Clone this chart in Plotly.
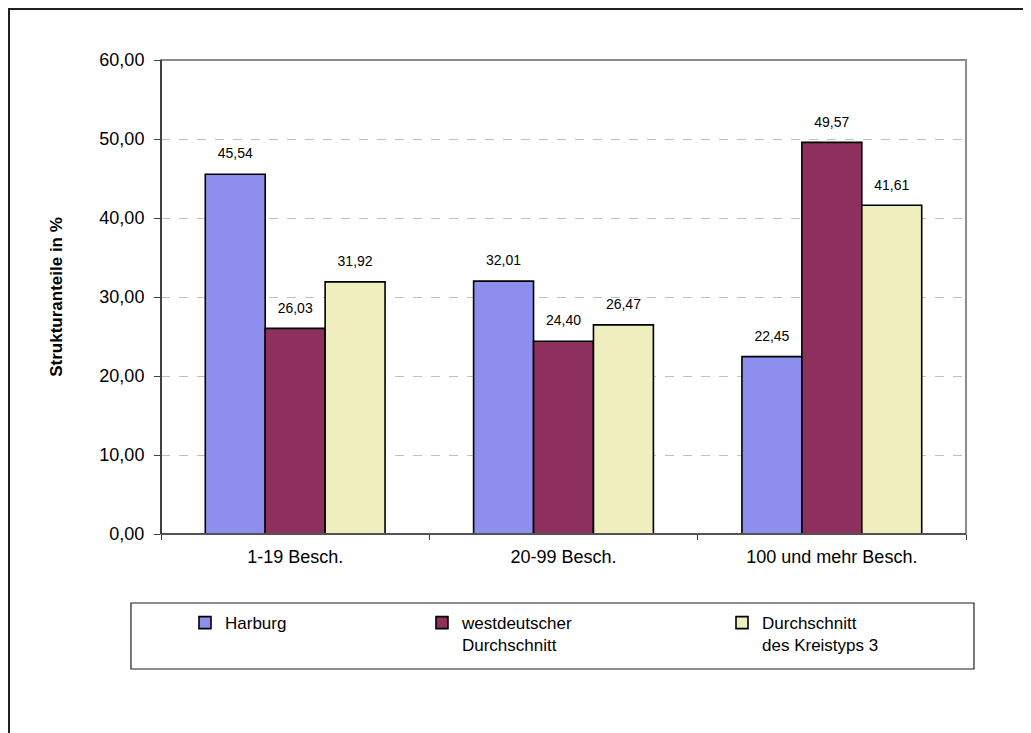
import plotly.graph_objects as go

categories = ["1-19 Besch.", "20-99 Besch.", "100 und mehr Besch."]
series_names = ["Harburg", "westdeutscher<br>Durchschnitt", "Durchschnitt<br>des Kreistyps 3"]
harburg = [45.54, 32.01, 22.45]
westdeutsch = [26.03, 24.40, 49.57]
kreistyp3 = [31.92, 26.47, 41.61]
y_ticks = [0, 10, 20, 30, 40, 50, 60]

series = [harburg, westdeutsch, kreistyp3]
colors = ["#8e8eee", "#8d305e", "#eeeebf"]
legend_ids = ["legend", "legend2", "legend3"]
legend_x = [0.0298, 0.3242, 0.6969]

FONT = "Arial, Liberation Sans, sans-serif"

fig = go.Figure()
for name, vals, col, lg in zip(series_names, series, colors, legend_ids):
    fig.add_trace(go.Bar(
        x=categories, y=vals, name=name, legend=lg,
        marker=dict(color=col, line=dict(color="#000000", width=1.6)),
    ))
for name, vals in zip(series_names, series):
    fig.add_trace(go.Scatter(
        x=categories, y=vals, mode="markers+text", showlegend=False,
        text=[f"{v:.2f}".replace(".", ",") for v in vals],
        textposition="top center",
        textfont=dict(family=FONT, size=14, color="#000000"),
        marker=dict(size=18, color="rgba(0,0,0,0)"),
        hoverinfo="skip", cliponaxis=False,
    ))

legend_common = dict(
    orientation="v", xanchor="left", yanchor="top", y=-0.150,
    bgcolor="rgba(0,0,0,0)", borderwidth=0, valign="top",
    font=dict(family=FONT, size=17, color="#000000"),
)
layout_legends = {}
for lg, lx in zip(legend_ids, legend_x):
    layout_legends[lg] = dict(x=lx, **legend_common)

fig.update_layout(
    width=1031, height=733,
    margin=dict(l=153, r=73, t=52, b=207),
    paper_bgcolor="white", plot_bgcolor="white",
    barmode="group", bargap=0.33, bargroupgap=0,
    scattermode="group", scattergap=0.33,
    separators=",.",
    font=dict(family=FONT, size=17, color="#000000"),
    **layout_legends,
    xaxis=dict(
        showline=False, ticks="outside", ticklen=5, tickcolor="#404040",
        tickson="boundaries", showgrid=False, ticklabelstandoff=10,
        tickfont=dict(family=FONT, size=18, color="#000000"),
    ),
    yaxis=dict(
        range=[0, 60], tickvals=y_ticks, tickformat=".2f",
        ticks="outside", ticklen=6, tickcolor="#404040",
        showline=False, zeroline=False, ticklabelstandoff=6,
        showgrid=True, gridcolor="#c0c0c0", gridwidth=1, griddash="dash",
        tickfont=dict(family=FONT, size=18, color="#000000"),
        title=dict(text="<b>Strukturanteile in %</b>", standoff=32,
                   font=dict(family=FONT, size=17, color="#000000")),
    ),
    shapes=[
        dict(type="rect", xref="x domain", yref="y domain", x0=0, x1=1, y0=0, y1=1,
             line=dict(color="#8c8c8c", width=2), layer="above"),
        dict(type="line", xref="x domain", yref="y domain", x0=0, x1=0, y0=0, y1=1,
             line=dict(color="#404040", width=2), layer="above"),
        dict(type="line", xref="x domain", yref="y domain", x0=0, x1=1, y0=0, y1=0,
             line=dict(color="#404040", width=1.5), layer="above"),
        dict(type="rect", xref="paper", yref="paper",
             x0=-0.0373, x1=1.0099, y0=-0.1456, y1=-0.2848,
             line=dict(color="#202020", width=1.2), layer="above"),
        dict(type="rect", xref="paper", yref="paper",
             x0=-0.1888, x1=1.15, y0=1.1076, y1=-0.45,
             line=dict(color="#202020", width=2), layer="above"),
    ],
)

fig.write_html("out.html")
